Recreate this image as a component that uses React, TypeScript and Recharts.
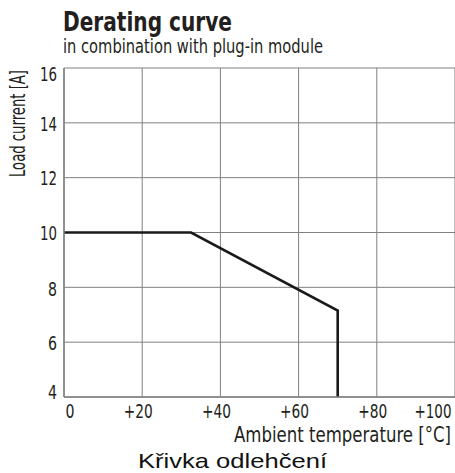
import React from 'react';
import { LineChart, Line, XAxis, YAxis, CartesianGrid } from 'recharts';

const temperatures = [0, 32.5, 70, 70];
const loadCurrents = [10, 10, 7.15, 4];
const xTicks = [0, 20, 40, 60, 80, 100];
const xTickLabels = ['0', '+20', '+40', '+60', '+80', '+100'];
const yTicks = [4, 6, 8, 10, 12, 14, 16];

const data = temperatures.map((t, i) => ({ t, a: loadCurrents[i] }));

const NARROW = '"Liberation Sans Narrow", "DejaVu Sans Condensed", "Roboto Condensed", sans-serif';
const TEXT = '#231f20';
const GRID = '#808080';

const labelWidth = (s: string) => {
  let w = 0;
  for (const c of s) w += c === '+' ? 11 : c === '1' ? 8 : 9;
  return w;
};

const XTick = (props: any) => {
  const { x, y, payload } = props;
  const v = payload.value;
  const idx = xTicks.indexOf(v);
  const label = idx >= 0 ? xTickLabels[idx] : String(v);
  const dx = v === 0 ? 6 : v === 100 ? -22 : -4;
  return (
    <text x={x + dx} y={y + 21} textAnchor="middle" fontFamily={NARROW} fontSize={19} fill={TEXT} textLength={labelWidth(label)} lengthAdjust="spacingAndGlyphs">
      {label}
    </text>
  );
};

const YTick = (props: any) => {
  const { x, y, payload } = props;
  const v = payload.value;
  const label = String(v);
  const off = v === 16 ? 6 : v === 14 ? 1.5 : v === 4 ? -5 : v === 8 ? 1.5 : 0.5;
  return (
    <text x={x - 7} y={y + 7 + off} textAnchor="end" fontFamily={NARROW} fontSize={19} fill={TEXT} textLength={labelWidth(label)} lengthAdjust="spacingAndGlyphs">
      {label}
    </text>
  );
};

export default function App() {
  return (
    <div style={{ position: 'absolute', left: 0, top: 0, width: 455, height: 473, background: '#fff' }}>
      <LineChart width={455} height={473} data={data} margin={{ top: 68, right: 0, bottom: 0, left: 0 }}>
        <CartesianGrid stroke={GRID} strokeWidth={1} />
        <XAxis
          dataKey="t"
          type="number"
          domain={[0, 100]}
          ticks={xTicks}
          interval={0}
          height={76}
          tickSize={0}
          tickMargin={0}
          tickLine={false}
          axisLine={{ stroke: GRID, strokeWidth: 1.5 }}
          tick={<XTick />}
        />
        <YAxis
          type="number"
          domain={[4, 16]}
          ticks={yTicks}
          interval={0}
          width={64}
          tickSize={0}
          tickMargin={0}
          tickLine={false}
          axisLine={{ stroke: GRID, strokeWidth: 1.5 }}
          tick={<YTick />}
        />
        <Line
          type="linear"
          dataKey="a"
          stroke="#1a1a1a"
          strokeWidth={2.6}
          dot={false}
          isAnimationActive={false}
          strokeLinejoin="miter"
        />
      </LineChart>
      <svg width={455} height={473} style={{ position: 'absolute', left: 0, top: 0, pointerEvents: 'none' }}>
        <text x={63} y={31} fontFamily={NARROW} fontWeight="bold" fontSize={27} fill={TEXT} textLength={169} lengthAdjust="spacingAndGlyphs">
          Derating curve
        </text>
        <text x={63} y={53} fontFamily={NARROW} fontSize={19} fill={TEXT} textLength={260} lengthAdjust="spacingAndGlyphs">
          in combination with plug-in module
        </text>
        <text transform="translate(25,177) rotate(-90)" x={0} y={0} fontFamily={NARROW} fontSize={21} fill={TEXT} textLength={107} lengthAdjust="spacingAndGlyphs">
          Load current [A]
        </text>
        <text x={234} y={442} fontFamily={NARROW} fontSize={21} fill={TEXT} textLength={217} lengthAdjust="spacingAndGlyphs">
          Ambient temperature [°C]
        </text>
        <text x={138} y={468} fontFamily={'"Liberation Sans", Arial, sans-serif'} fontSize={21} fill="#111" textLength={189} lengthAdjust="spacingAndGlyphs">
          Křivka odlehčení
        </text>
      </svg>
    </div>
  );
}
